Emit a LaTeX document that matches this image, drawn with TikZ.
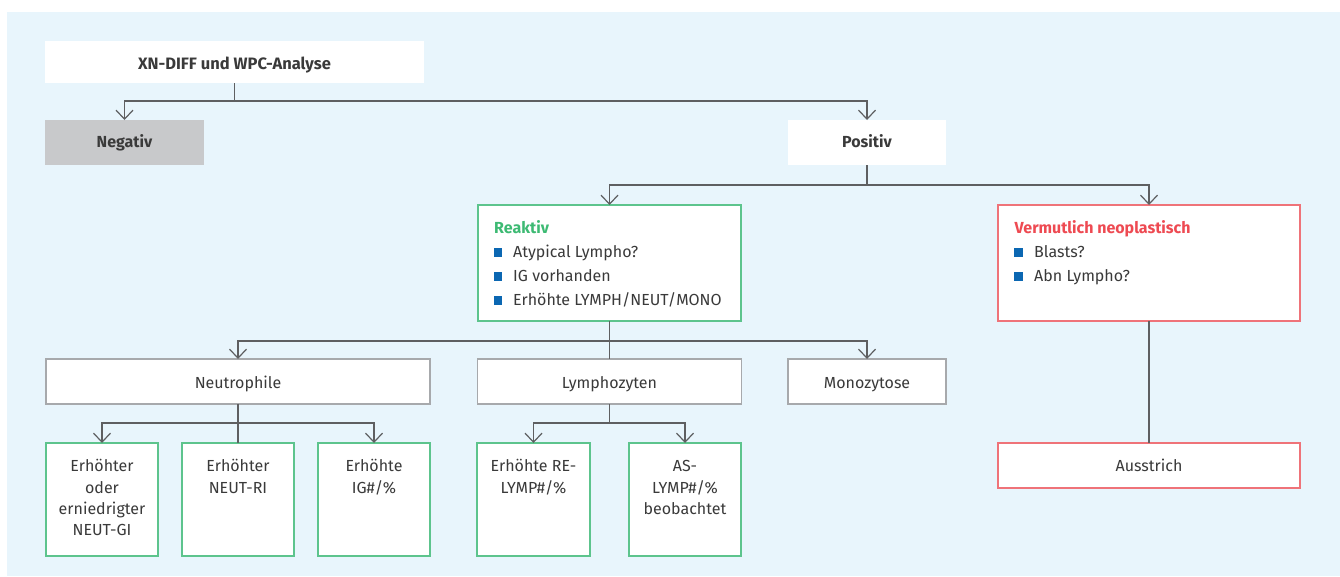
\documentclass[tikz,border=0pt]{standalone}
\usepackage{fontspec}
\setmainfont{Fira Sans}
\usetikzlibrary{arrows.meta}
\definecolor{bgblue}{HTML}{E8F5FC}
\definecolor{grnline}{HTML}{5DC48D}
\definecolor{grntext}{HTML}{3DBA73}
\definecolor{redline}{HTML}{EF7379}
\definecolor{redtext}{HTML}{EE4A52}
\definecolor{bulblue}{HTML}{0B67B2}
\definecolor{grayline}{HTML}{A7A9AC}
\definecolor{grayfill}{HTML}{C8C9CB}
\definecolor{conncol}{HTML}{5E5F61}
\definecolor{txt}{HTML}{3A3A3A}
\begin{document}
\begin{tikzpicture}[x=1pt,y=-1pt,
 box/.style={rectangle, inner sep=0pt, outer sep=0pt, line width=1.5pt},
 plainbox/.style={box, fill=white},
 graybox/.style={box, fill=white, draw=grayline},
 greenbox/.style={box, fill=white, draw=grnline},
 redbox/.style={box, fill=white, draw=redline},
 negbox/.style={box, fill=grayfill},
 lbl/.style={inner sep=0pt, text=txt, font=\fontsize{16}{21.3}\selectfont},
 lblb/.style={inner sep=0pt, text=txt, font=\fontsize{16}{21.3}\selectfont\bfseries},
 multi/.style={lbl, align=center, anchor=north},
 conn/.style={draw=conncol, line width=1.2pt},
 arr/.style={conn, -{Straight Barb[length=9pt,width=17pt,line width=1.2pt]}},
 bul/.style={fill=bulblue, minimum size=8.5pt, inner sep=0pt, outer sep=0pt}
]
\useasboundingbox (0,0) rectangle (1340,576);
\fill[white] (0,0) rectangle (1340,576);
\fill[bgblue] (7,12) rectangle (1340,576);

% boxes
\node[plainbox, minimum width=379pt, minimum height=42pt] (title) at (234.5,62) {};
\node[negbox, minimum width=159pt, minimum height=45pt] (neg) at (124.5,142.5) {};
\node[plainbox, minimum width=158pt, minimum height=45pt] (pos) at (867,142.5) {};
\node[greenbox, minimum width=263pt, minimum height=116pt] (reak) at (609.5,263) {};
\node[redbox, minimum width=302pt, minimum height=116pt] (verm) at (1149,263) {};
\node[graybox, minimum width=384pt, minimum height=45pt] (neut) at (238,381.5) {};
\node[graybox, minimum width=264pt, minimum height=45pt] (lymph) at (609.5,381.5) {};
\node[graybox, minimum width=158pt, minimum height=45pt] (mono) at (867,381.5) {};
\node[redbox, minimum width=302pt, minimum height=45pt] (auss) at (1149,465.5) {};
\node[greenbox, minimum width=112pt, minimum height=113pt] (b1) at (102,499.5) {};
\node[greenbox, minimum width=112pt, minimum height=113pt] (b2) at (238,499.5) {};
\node[greenbox, minimum width=112pt, minimum height=113pt] (b3) at (374,499.5) {};
\node[greenbox, minimum width=113pt, minimum height=113pt] (b4) at (533.5,499.5) {};
\node[greenbox, minimum width=112pt, minimum height=113pt] (b5) at (685,499.5) {};

% labels
\node[lblb, anchor=base, font=\fontsize{16.5}{21.3}\selectfont\bfseries] (ttitle) at (234.5,69) {XN-DIFF und WPC-Analyse};
\node[lblb, anchor=base] (tneg) at (124.5,147.5) {Negativ};
\node[lblb, anchor=base] (tpos) at (867,147.5) {Positiv};
\node[lbl, anchor=base] (tneut) at (238,388.5) {Neutrophile};
\node[lbl, anchor=base] (tlymph) at (609.5,388.5) {Lymphozyten};
\node[lbl, anchor=base] (tmono) at (867,388.5) {Monozytose};
\node[lbl, anchor=base] (tauss) at (1149,471.5) {Ausstrich};

\node[lblb, anchor=base west, text=grntext] (treak) at (494,233) {Reaktiv};
\node[bul] (rb1) at (497.8,252.5) {};
\node[bul] (rb2) at (497.8,276.5) {};
\node[bul] (rb3) at (497.8,300.5) {};
\node[lbl, anchor=base west] (rt1) at (513,257.5) {Atypical Lympho?};
\node[lbl, anchor=base west] (rt2) at (513,281.5) {IG vorhanden};
\node[lbl, anchor=base west] (rt3) at (513,305.5) {Erhöhte LYMPH/NEUT/MONO};

\node[lblb, anchor=base west, text=redtext] (tverm) at (1014.5,233) {Vermutlich neoplastisch};
\node[bul] (vb1) at (1018.6,252.5) {};
\node[bul] (vb2) at (1018.6,276.5) {};
\node[lbl, anchor=base west] (vt1) at (1034,257.5) {Blasts?};
\node[lbl, anchor=base west] (vt2) at (1034,281.5) {Abn Lympho?};

\node[multi] (tb1) at (102,457.5) {\rule{0pt}{14pt}Erhöhter\\oder\\erniedrigter\\NEUT-GI};
\node[multi] (tb2) at (238,457.5) {\rule{0pt}{14pt}Erhöhter\\NEUT-RI};
\node[multi] (tb3) at (374,457.5) {\rule{0pt}{14pt}Erhöhte\\IG\#/\%};
\node[multi] (tb4) at (533.5,457.5) {\rule{0pt}{14pt}Erhöhte RE-\\LYMP\#/\%};
\node[multi] (tb5) at (685,457.5) {\rule{0pt}{14pt}AS-\\LYMP\#/\%\\beobachtet};

% connectors
\coordinate (j1) at (234.5,101);
\coordinate (j2) at (867,185);
\coordinate (j3) at (609.5,341);
\coordinate (j4) at (238,423);
\coordinate (j5) at (609.5,423);

\draw[arr] (title.south) -- (j1) -| (neg.north);
\draw[arr] (j1) -| (pos.north);
\draw[arr] (pos.south) -- (j2) -| (reak.north);
\draw[arr] (j2) -| (verm.north);
\draw[conn] (verm.south) -- (auss.north);
\draw[arr] (reak.south) -- (j3) -| (neut.north);
\draw[arr] (j3) -| (mono.north);
\draw[conn] (j3) -- (lymph.north);
\draw[arr] (neut.south) -- (j4) -| (b1.north);
\draw[arr] (j4) -| (b3.north);
\draw[conn] (j4) -- (b2.north);
\draw[arr] (lymph.south) -- (j5) -| (b4.north);
\draw[arr] (j5) -| (b5.north);
\end{tikzpicture}
\end{document}
